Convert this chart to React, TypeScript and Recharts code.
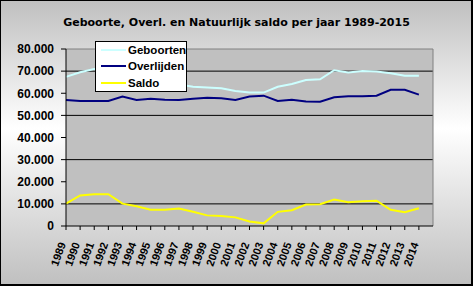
import React from "react";
import { LineChart, Line, XAxis, YAxis, CartesianGrid, ReferenceLine } from "recharts";

const years = [1989, 1990, 1991, 1992, 1993, 1994, 1995, 1996, 1997, 1998, 1999, 2000, 2001, 2002, 2003, 2004, 2005, 2006, 2007, 2008, 2009, 2010, 2011, 2012, 2013, 2014];
const geboorten = [67400, 69500, 71000, 70900, 68600, 65900, 64900, 64500, 64000, 62900, 62600, 62300, 61000, 60300, 60300, 62900, 64200, 66000, 66300, 70400, 69400, 70000, 69800, 69000, 67900, 67900];
const overlijden = [56950, 56500, 56500, 56500, 58500, 57000, 57500, 57100, 57000, 57500, 58000, 57700, 57000, 58500, 58900, 56500, 57100, 56300, 56200, 58200, 58600, 58600, 58900, 61600, 61600, 59400];
const saldo = [10100, 13800, 14400, 14400, 10100, 8900, 7400, 7400, 7900, 6400, 4800, 4500, 3900, 2000, 1200, 6400, 7100, 9700, 9800, 12000, 10700, 11200, 11400, 7300, 6200, 8000];
const yTicks = [0, 10000, 20000, 30000, 40000, 50000, 60000, 70000, 80000];
const title = "Geboorte, Overl. en Natuurlijk saldo per jaar 1989-2015";
const seriesNames = ["Geboorten", "Overlijden", "Saldo"];
const seriesColors = ["#ccffff", "#000080", "#ffff00"];

const data = years.map((y, i) => ({ jaar: y, Geboorten: geboorten[i], Overlijden: overlijden[i], Saldo: saldo[i] }));

const fmt = (v: number) => v === 0 ? "0" : `${Math.floor(v / 1000)}.${String(v % 1000).padStart(3, "0")}`;

const XTick = (props: any) => {
  const { x, y, payload } = props;
  const ay = y + 12;
  return (
    <text x={x} y={ay} textAnchor="end" transform={`rotate(-70, ${x}, ${ay})`}
      fontFamily="'Liberation Sans', Arial, sans-serif" fontWeight="bold" fontSize={11} fill="#000">
      {payload.value}
    </text>
  );
};

const LegendBox = () => (
  <div style={{ position: "absolute", left: 94, top: 40, width: 92, height: 51, background: "#fff", border: "1px solid #000", boxSizing: "border-box" }}>
    {seriesNames.map((name, i) => (
      <div key={name} style={{ position: "absolute", left: 5, top: 1 + i * 16.4, height: 14, display: "flex", alignItems: "center" }}>
        <div style={{ width: 25, height: 2, background: seriesColors[i], marginRight: 2 }} />
        <span style={{ fontFamily: "'Liberation Sans', Arial, sans-serif", fontWeight: "bold", fontSize: 11.5, color: "#000", lineHeight: "14px" }}>{name}</span>
      </div>
    ))}
  </div>
);

export default function App() {
  return (
    <div style={{ position: "absolute", left: 0, top: 0, width: 473, height: 286, boxSizing: "border-box", border: "1px solid #000", borderRightWidth: 2, borderBottomWidth: 2, background: "linear-gradient(to bottom, #c0c0c0 0%, #ffffff 45%, #c0c0c0 100%)", overflow: "hidden" }}>
      <div style={{ position: "absolute", left: -1, top: 15, width: 473, textAlign: "center", fontFamily: "'DejaVu Sans', Verdana, sans-serif", fontWeight: "bold", fontSize: 11, lineHeight: "13px", color: "#000" }}>{title}</div>
      <div style={{ position: "absolute", left: -1, top: -1 }}>
        <LineChart width={473} height={286} data={data} margin={{ top: 49, right: 40, bottom: 0, left: 0 }}>
          <CartesianGrid horizontal={true} vertical={false} stroke="#000" strokeWidth={1} fill="#c0c0c0" horizontalValues={[10000, 20000, 30000, 40000, 50000, 60000, 70000]} />
          <ReferenceLine y={80000} stroke="#808080" strokeWidth={1} />
          <ReferenceLine x={2015} stroke="#808080" strokeWidth={1} />
          <XAxis dataKey="jaar" type="number" domain={[1989, 2015]} ticks={years} interval={0} height={60}
            axisLine={{ stroke: "#000" }} tickLine={{ stroke: "#000" }} tickSize={4} tick={<XTick />} />
          <YAxis type="number" domain={[0, 80000]} ticks={yTicks} width={66} tickFormatter={fmt}
            axisLine={{ stroke: "#000" }} tickLine={{ stroke: "#000" }} tickSize={5} tickMargin={7}
            tick={{ fill: "#000", fontSize: 12, fontWeight: "bold", fontFamily: "'Liberation Sans', Arial, sans-serif" }} />
          <Line type="linear" dataKey="Geboorten" stroke={seriesColors[0]} strokeWidth={2} dot={false} isAnimationActive={false} />
          <Line type="linear" dataKey="Overlijden" stroke={seriesColors[1]} strokeWidth={2} dot={false} isAnimationActive={false} />
          <Line type="linear" dataKey="Saldo" stroke={seriesColors[2]} strokeWidth={2} dot={false} isAnimationActive={false} />
        </LineChart>
      </div>
      <LegendBox />
    </div>
  );
}
